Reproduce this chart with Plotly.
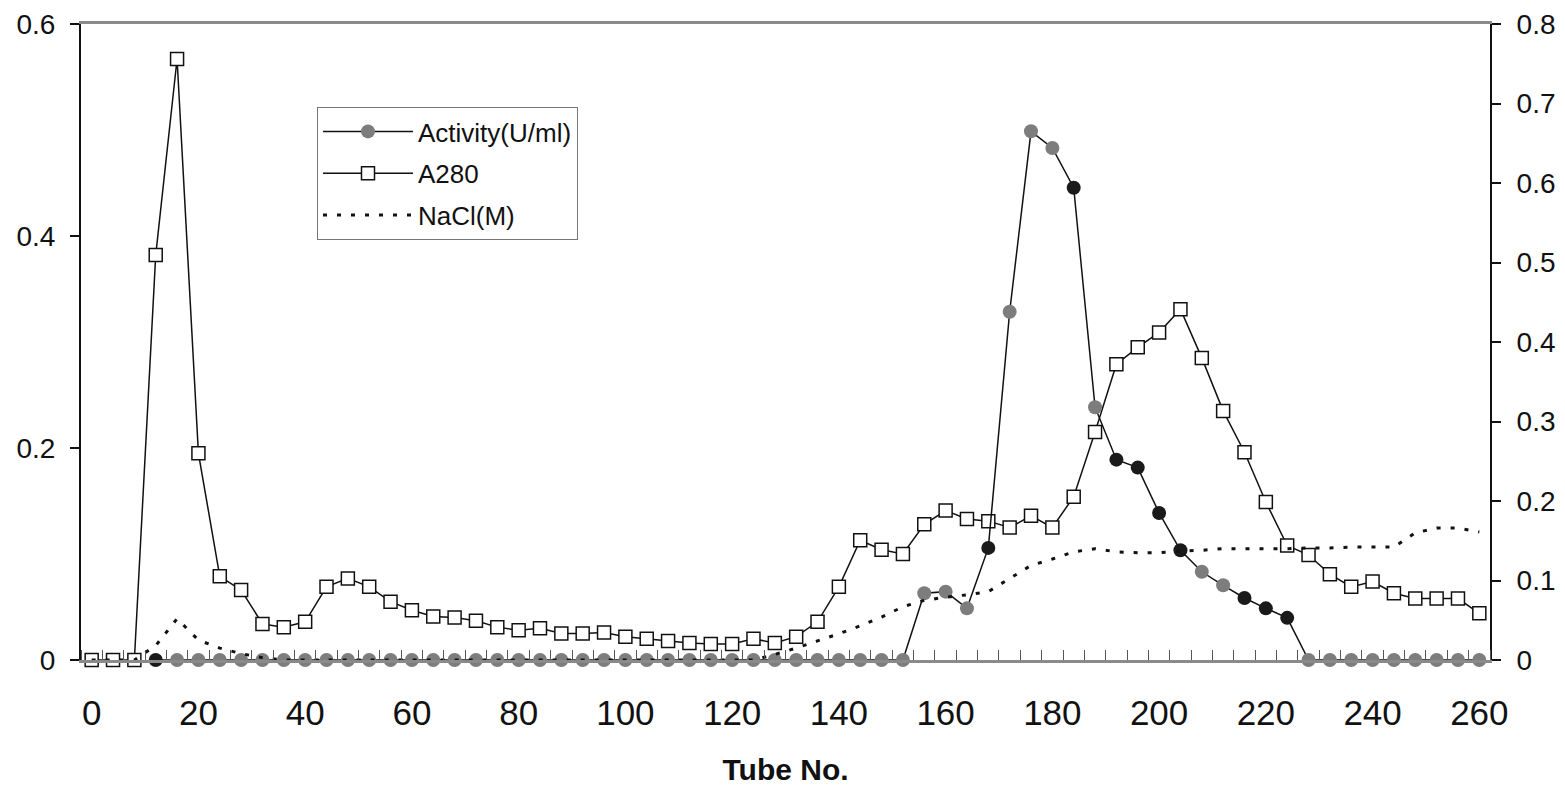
import plotly.graph_objects as go

tubes = list(range(0, 261, 4))

a280 = [0, 0, 0, 0.382, 0.567, 0.195, 0.079, 0.066, 0.034, 0.031, 0.036, 0.069, 0.077, 0.069,
        0.055, 0.047, 0.041, 0.040, 0.037, 0.031, 0.028, 0.030, 0.025, 0.025, 0.026, 0.022,
        0.020, 0.018, 0.016, 0.015, 0.015, 0.020, 0.016, 0.022, 0.036, 0.069, 0.113, 0.104,
        0.100, 0.128, 0.141, 0.133, 0.131, 0.125, 0.136, 0.125, 0.154, 0.215, 0.279, 0.295,
        0.309, 0.331, 0.285, 0.235, 0.196, 0.149, 0.108, 0.099, 0.081, 0.069, 0.074, 0.063,
        0.058, 0.058, 0.058, 0.044]

act_tubes = list(range(12, 261, 4))
activity = [0] * 36 + [0.084, 0.086, 0.065, 0.141, 0.438, 0.665, 0.644, 0.594, 0.318, 0.252,
                       0.242, 0.185, 0.138, 0.111, 0.094, 0.078, 0.065, 0.053] + [0] * 9
act_dark = [12, 168, 184, 192, 196, 200, 204, 216, 220, 224]

nacl = [0, 0, 0, 0.018, 0.052, 0.025, 0.015, 0.008, 0.003] + [0] * 23 + \
       [0.007, 0.015, 0.024, 0.033, 0.043, 0.054, 0.067, 0.075, 0.079, 0.082, 0.086, 0.103,
        0.119, 0.127, 0.136, 0.140, 0.136, 0.135, 0.135, 0.137, 0.138, 0.140, 0.140, 0.140,
        0.140, 0.141, 0.141, 0.142, 0.142, 0.142, 0.160, 0.166, 0.166, 0.161]

x_ticks = list(range(0, 261, 20))
left_ticks = [0, 0.2, 0.4, 0.6]
left_labels = ["0", "0.2", "0.4", "0.6"]
right_ticks = [0, 0.1, 0.2, 0.3, 0.4, 0.5, 0.6, 0.7, 0.8]
right_labels = ["0", "0.1", "0.2", "0.3", "0.4", "0.5", "0.6", "0.7", "0.8"]

FONT = "Liberation Sans, Arial, sans-serif"
GRAY = "#7d7d7d"
DARK = "#1a1a1a"

act_colors = [DARK if t in act_dark else GRAY for t in act_tubes]

fig = go.Figure()
fig.add_trace(go.Scatter(
    x=act_tubes, y=activity, name="Activity(U/ml)", yaxis="y2", mode="lines+markers",
    line=dict(color="#111", width=1.5),
    marker=dict(symbol="circle", size=14, color=act_colors, line=dict(width=0)),
    cliponaxis=False, showlegend=False))
# legend entries
fig.add_trace(go.Scatter(
    x=[None], y=[None], name="Activity(U/ml)", yaxis="y2", mode="lines+markers",
    legendgroup="g1",
    line=dict(color="#111", width=1.5),
    marker=dict(symbol="circle", size=14, color=GRAY, line=dict(width=0))))
fig.add_trace(go.Scatter(
    x=tubes, y=a280, name="A280", yaxis="y", mode="lines+markers", legendgroup="g2",
    line=dict(color="#111", width=1.5),
    marker=dict(symbol="square", size=13, color="white", line=dict(color="#111", width=1.5)),
    cliponaxis=False))
fig.add_trace(go.Scatter(
    x=tubes, y=nacl, name="NaCl(M)", yaxis="y2", mode="lines", legendgroup="g3",
    line=dict(color="#111", width=3, dash="4px,10px")))

fig.update_layout(
    width=1565, height=793,
    margin=dict(l=81, r=75, t=24, b=133, autoexpand=False),
    paper_bgcolor="white", plot_bgcolor="white",
    font=dict(family=FONT, color="#111"),
    showlegend=True,
    legend=dict(x=(317 - 81) / 1409, y=(660 - 107) / 636, xanchor="left", yanchor="top",
                bgcolor="white", bordercolor="#777", borderwidth=1,
                font=dict(family=FONT, size=26, color="#111"),
                itemwidth=90, tracegroupgap=5),
    xaxis=dict(range=[-2, 262], tickmode="array", tickvals=x_ticks,
               ticks="", showgrid=False, zeroline=False, automargin=False,
               showline=True, linecolor="#8a8a8a", linewidth=3, mirror=True,
               tickfont=dict(size=35, family=FONT), ticklabelstandoff=20,
               minor=dict(tickmode="linear", tick0=-2, dtick=4, ticks="inside",
                          ticklen=10, tickcolor="#555", tickwidth=1, showgrid=False),
               title=dict(text="<b>Tube No.</b>", font=dict(size=30, family=FONT),
                          standoff=28)),
    yaxis=dict(range=[0, 0.6], tickmode="array", tickvals=left_ticks, ticktext=left_labels,
               ticks="outside", ticklen=9, tickcolor="#111", tickwidth=1.5, automargin=False,
               showgrid=False, zeroline=False, showline=True, linecolor="#111", linewidth=2,
               tickfont=dict(size=28, family=FONT), ticklabelstandoff=9),
    yaxis2=dict(range=[0, 0.8], overlaying="y", side="right", anchor="x", automargin=False,
                tickmode="array", tickvals=right_ticks, ticktext=right_labels,
                ticks="outside", ticklen=9, tickcolor="#111", tickwidth=1.5,
                showgrid=False, zeroline=False, showline=True, linecolor="#111", linewidth=2,
                tickfont=dict(size=28, family=FONT), ticklabelstandoff=10),
    yaxis3=dict(range=[0, 0.6], overlaying="y", side="left", anchor="x", automargin=False,
                tickmode="array", tickvals=left_ticks, ticks="inside", ticklen=9,
                tickcolor="#111", tickwidth=1.5, showticklabels=False,
                showgrid=False, zeroline=False, showline=False),
    yaxis4=dict(range=[0, 0.8], overlaying="y", side="right", anchor="x", automargin=False,
                tickmode="array", tickvals=right_ticks, ticks="inside", ticklen=9,
                tickcolor="#111", tickwidth=1.5, showticklabels=False,
                showgrid=False, zeroline=False, showline=False),
)

fig.write_html("out.html")
